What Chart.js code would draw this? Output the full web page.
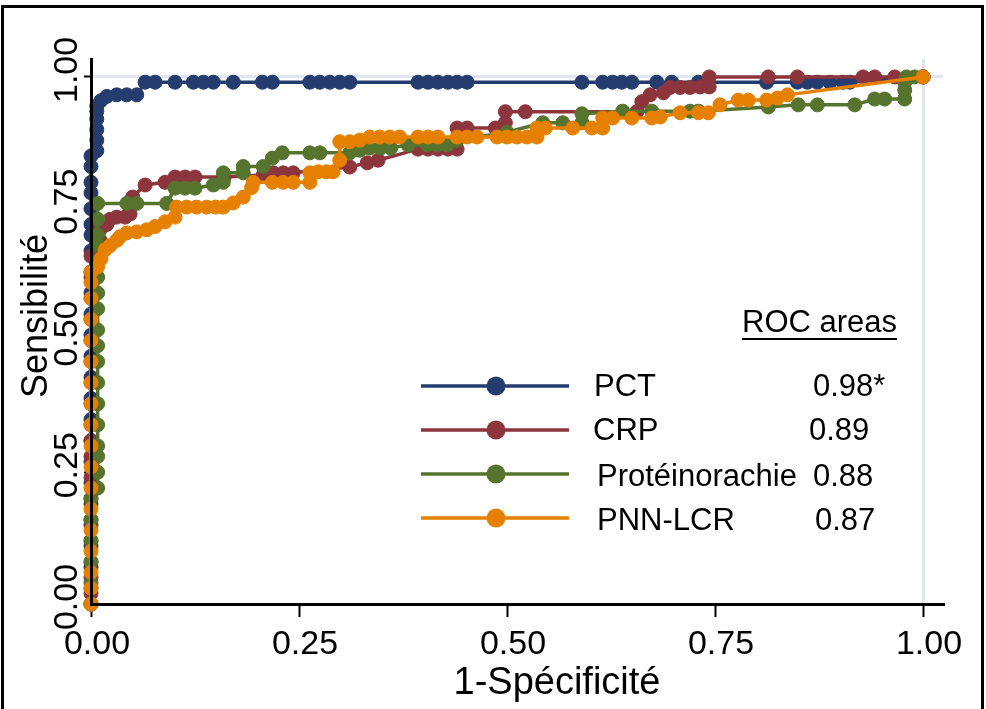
<!DOCTYPE html>
<html>
<head>
<meta charset="utf-8">
<title>ROC curves</title>
<script src="https://cdn.jsdelivr.net/npm/chart.js@4.4.1/dist/chart.umd.min.js"></script>
<style>
    html, body { margin: 0; padding: 0; background: #fff; overflow: hidden; }
    #wrap { position: relative; width: 986px; height: 709px; }
</style>
</head>
<body>
<div id="wrap"><canvas id="roc"></canvas></div>
<script>
// Tick positions shared by both axes
const tickValues = [0, 0.25, 0.5, 0.75, 1];

// Series names and areas under the curve (legend)
const seriesNames = ['PCT', 'CRP', 'Protéinorachie', 'PNN-LCR'];
const rocAreas = ['0.98*', '0.89', '0.88', '0.87'];
const seriesColors = ['#253d6e', '#8d353d', '#56742e', '#e68000'];

// PCT: 1-specificity / sensitivity
const pctX = [0, 0, 0, 0, 0, 0, 0, 0, 0, 0, 0, 0, 0, 0, 0, 0, 0, 0, 0, 0, 0, 0, 0, 0, 0,
    0.007, 0.007, 0.007, 0.007, 0.007, 0.007, 0.012, 0.019, 0.031, 0.043, 0.055,
    0.065, 0.077, 0.101, 0.123, 0.135, 0.147, 0.171, 0.206, 0.218, 0.263, 0.275, 0.287, 0.299, 0.311,
    0.393, 0.405, 0.417, 0.429, 0.44, 0.452, 0.59, 0.615, 0.627, 0.638, 0.65, 0.68, 0.698, 0.73,
    0.812, 0.849, 0.861, 0.873, 0.888, 0.904, 0.912, 1];
const pctY = [0, 0.03, 0.07, 0.11, 0.15, 0.19, 0.23, 0.27, 0.31, 0.35, 0.39, 0.43, 0.47, 0.51, 0.55, 0.59, 0.63, 0.67, 0.7, 0.72, 0.75, 0.78, 0.8, 0.83, 0.85,
    0.86, 0.88, 0.9, 0.92, 0.935, 0.945, 0.955, 0.963, 0.966, 0.966, 0.966,
    0.99, 0.99, 0.99, 0.99, 0.99, 0.99, 0.99, 0.99, 0.99, 0.99, 0.99, 0.99, 0.99, 0.99,
    0.99, 0.99, 0.99, 0.99, 0.99, 0.99, 0.99, 0.99, 0.99, 0.99, 0.99, 0.99, 0.99, 0.99,
    0.99, 0.99, 0.99, 0.99, 0.99, 0.99, 0.99, 1];

// CRP
const crpX = [0, 0, 0, 0, 0, 0, 0, 0, 0, 0, 0, 0, 0, 0, 0, 0, 0, 0, 0,
    0.011, 0.011, 0.019, 0.023, 0.031, 0.041, 0.047, 0.047, 0.05, 0.065, 0.089, 0.101, 0.113, 0.125,
    0.16, 0.207, 0.219, 0.231, 0.243, 0.311, 0.332, 0.345, 0.393, 0.405, 0.417, 0.429, 0.44, 0.44,
    0.452, 0.486, 0.498, 0.498, 0.522, 0.656, 0.662, 0.672, 0.688, 0.696, 0.708, 0.72, 0.732, 0.743,
    0.743, 0.814, 0.849, 0.928, 0.942, 0.966, 1];
const crpY = [0, 0.02, 0.05, 0.08, 0.12, 0.16, 0.2, 0.24, 0.28, 0.31, 0.34, 0.38, 0.42, 0.46, 0.5, 0.54, 0.58, 0.62, 0.66,
    0.69, 0.71, 0.72, 0.73, 0.734, 0.734, 0.74, 0.755, 0.772, 0.795, 0.8, 0.81, 0.81, 0.81,
    0.81, 0.814, 0.818, 0.818, 0.818, 0.829, 0.837, 0.842, 0.863, 0.863, 0.863, 0.863, 0.863, 0.903,
    0.903, 0.903, 0.913, 0.934, 0.934, 0.934, 0.953, 0.966, 0.97, 0.98, 0.98, 0.98, 0.981, 0.981,
    1, 1, 1, 1, 1, 1, 1];

// Proteinorachie
const protX = [0, 0, 0, 0, 0, 0,
    0.008, 0.008, 0.008, 0.008, 0.008, 0.008, 0.008, 0.008, 0.008, 0.008, 0.008, 0.008, 0.008, 0.008, 0.008, 0.008, 0.008, 0.008,
    0.043, 0.055, 0.091, 0.101, 0.113, 0.125, 0.147, 0.159, 0.159, 0.183, 0.183, 0.207, 0.218, 0.23,
    0.263, 0.275, 0.311, 0.323, 0.335, 0.348, 0.36, 0.381, 0.404, 0.416, 0.428, 0.44, 0.5,
    0.543, 0.567, 0.59, 0.59, 0.639, 0.674, 0.72, 0.73, 0.814, 0.85, 0.873, 0.918, 0.942, 0.954,
    0.978, 0.978, 0.978, 0.98, 0.99, 1];
const protY = [0, 0.04, 0.08, 0.12, 0.16, 0.2,
    0.22, 0.25, 0.28, 0.3, 0.34, 0.38, 0.42, 0.46, 0.49, 0.52, 0.56, 0.59, 0.62, 0.65, 0.68, 0.7, 0.73, 0.76,
    0.76, 0.76, 0.76, 0.789, 0.789, 0.789, 0.795, 0.8, 0.818, 0.818, 0.83, 0.83, 0.846, 0.856,
    0.856, 0.856, 0.856, 0.861, 0.865, 0.865, 0.865, 0.871, 0.871, 0.871, 0.871, 0.88, 0.895,
    0.913, 0.913, 0.913, 0.93, 0.935, 0.935, 0.935, 0.935, 0.943, 0.947, 0.947, 0.947, 0.958, 0.958,
    0.958, 0.975, 0.99, 1, 1, 1];

// PNN-LCR
const pnnX = [0, 0, 0, 0, 0, 0, 0, 0, 0, 0, 0, 0, 0, 0, 0, 0, 0, 0,
    0.008, 0.012, 0.017, 0.023, 0.031, 0.035, 0.043, 0.055, 0.067, 0.077, 0.089, 0.101, 0.103,
    0.115, 0.127, 0.139, 0.15, 0.159, 0.171, 0.183, 0.193, 0.195, 0.218, 0.231, 0.243, 0.263, 0.263,
    0.273, 0.283, 0.291, 0.299, 0.299, 0.311, 0.323, 0.335, 0.347, 0.359, 0.371, 0.393, 0.405, 0.417,
    0.44, 0.452, 0.464, 0.488, 0.5, 0.512, 0.524, 0.536, 0.536, 0.546, 0.579, 0.602, 0.615, 0.615,
    0.627, 0.65, 0.674, 0.684, 0.708, 0.73, 0.742, 0.756, 0.778, 0.79, 0.812, 0.825, 0.837, 1];
const pnnY = [0, 0.03, 0.06, 0.1, 0.14, 0.18, 0.22, 0.26, 0.3, 0.34, 0.38, 0.42, 0.46, 0.5, 0.54, 0.58, 0.61, 0.63,
    0.64, 0.655, 0.672, 0.68, 0.69, 0.697, 0.704, 0.706, 0.71, 0.716, 0.725, 0.734, 0.753,
    0.753, 0.753, 0.753, 0.753, 0.753, 0.761, 0.772, 0.79, 0.8, 0.8, 0.8, 0.8, 0.8, 0.818,
    0.82, 0.82, 0.82, 0.842, 0.877, 0.877, 0.88, 0.886, 0.886, 0.886, 0.886, 0.886, 0.886, 0.886,
    0.886, 0.886, 0.886, 0.886, 0.886, 0.886, 0.886, 0.886, 0.903, 0.903, 0.903, 0.903, 0.903, 0.922,
    0.922, 0.922, 0.922, 0.924, 0.932, 0.932, 0.932, 0.947, 0.956, 0.956, 0.956, 0.96, 0.966, 1];

const FONT = "'Liberation Sans', Arial, sans-serif";

function toPoints(xs, ys) {
    return xs.map((x, i) => ({ x: x, y: ys[i] }));
}

function makeDataset(i, xs, ys) {
    return {
        label: seriesNames[i],
        data: toPoints(xs, ys),
        borderColor: seriesColors[i],
        backgroundColor: seriesColors[i],
        pointBackgroundColor: seriesColors[i],
        pointBorderColor: seriesColors[i],
        borderWidth: 3.5,
        pointRadius: 7,
        pointBorderWidth: 1,
        tension: 0,
        clip: false,
        order: 4 - i
    };
}

// Frame, axis titles and the ROC-area legend
const decorations = {
    id: 'decorations',
    beforeDraw(chart) {
        const c = chart.ctx;
        c.save();
        c.fillStyle = '#fff';
        c.fillRect(0, 0, chart.width, chart.height);
        c.strokeStyle = '#000';
        c.lineWidth = 3;
        c.strokeRect(2.5, 6.5, 980, 760);
        c.restore();
    },
    afterDraw(chart) {
        const c = chart.ctx;
        c.save();
        c.fillStyle = '#000';

        // y title
        c.font = '36px ' + FONT;
        c.textAlign = 'center';
        c.textBaseline = 'alphabetic';
        c.save();
        c.translate(47, 316);
        c.rotate(-Math.PI / 2);
        c.fillText('Sensibilité', 0, 0);
        c.restore();

        // x title
        c.font = '38px ' + FONT;
        c.fillText('1-Spécificité', 557, 694);

        // legend
        c.font = '31px ' + FONT;
        c.textAlign = 'left';
        c.fillText('ROC areas', 742, 332);
        const w = c.measureText('ROC areas').width;
        c.strokeStyle = '#000';
        c.lineWidth = 2;
        c.beginPath();
        c.moveTo(742, 339);
        c.lineTo(742 + w, 339);
        c.stroke();

        const rowY = [386, 430, 474, 518];
        const textY = [396, 440, 486, 530];
        const nameX = [594, 593, 597, 597];
        const valX = [813, 809, 813, 815];
        seriesNames.forEach((name, i) => {
            c.strokeStyle = seriesColors[i];
            c.fillStyle = seriesColors[i];
            c.lineWidth = 3.5;
            c.beginPath();
            c.moveTo(421, rowY[i]);
            c.lineTo(569, rowY[i]);
            c.stroke();
            c.beginPath();
            c.arc(496, rowY[i], 9.5, 0, Math.PI * 2);
            c.fill();
            c.fillStyle = '#000';
            c.fillText(name, nameX[i], textY[i]);
            c.fillText(rocAreas[i], valX[i], textY[i]);
        });
        c.restore();
    }
};

function setTicks(axis) {
    axis.ticks = tickValues.map(v => ({ value: v }));
}

function gridColor(ctx) {
    return ctx.tick && ctx.tick.value === 1 ? '#e1e5ef' : 'rgba(0,0,0,0)';
}

const config = {
    type: 'line',
    data: {
        datasets: [
            makeDataset(0, pctX, pctY),
            makeDataset(1, crpX, crpY),
            makeDataset(2, protX, protY),
            makeDataset(3, pnnX, pnnY)
        ]
    },
    options: {
        responsive: true,
        maintainAspectRatio: false,
        animation: false,
        layout: { padding: { top: 59, right: 43, left: 0, bottom: 0 } },
        plugins: {
            legend: { display: false },
            tooltip: { enabled: false }
        },
        scales: {
            x: {
                type: 'linear',
                min: 0,
                max: 1.024,
                afterBuildTicks: setTicks,
                afterFit: function(scale) { scale.height = 105; },
                border: { color: '#000', width: 3, z: 1 },
                grid: {
                    color: gridColor,
                    lineWidth: 3,
                    tickColor: '#000',
                    tickWidth: 2,
                    tickLength: 13
                },
                ticks: {
                    color: '#000',
                    font: { family: FONT, size: 34 },
                    padding: 7,
                    labelOffset: 6,
                    maxRotation: 0,
                    callback: function(value) { return value.toFixed(2); }
                }
            },
            y: {
                type: 'linear',
                min: 0,
                max: 1.034,
                afterBuildTicks: setTicks,
                afterFit: function(scale) { scale.width = 91; },
                border: { color: '#000', width: 3, z: 1 },
                grid: {
                    color: gridColor,
                    lineWidth: 3,
                    tickColor: '#000',
                    tickWidth: 2,
                    tickLength: 7
                },
                ticks: {
                    color: '#000',
                    font: { family: FONT, size: 34 },
                    minRotation: 90,
                    maxRotation: 90,
                    crossAlign: 'center',
                    padding: -17,
                    labelOffset: -7,
                    callback: function(value) { return value.toFixed(2); }
                }
            }
        }
    },
    plugins: [decorations]
};

new Chart(document.getElementById('roc'), config);
</script>
</body>
</html>
